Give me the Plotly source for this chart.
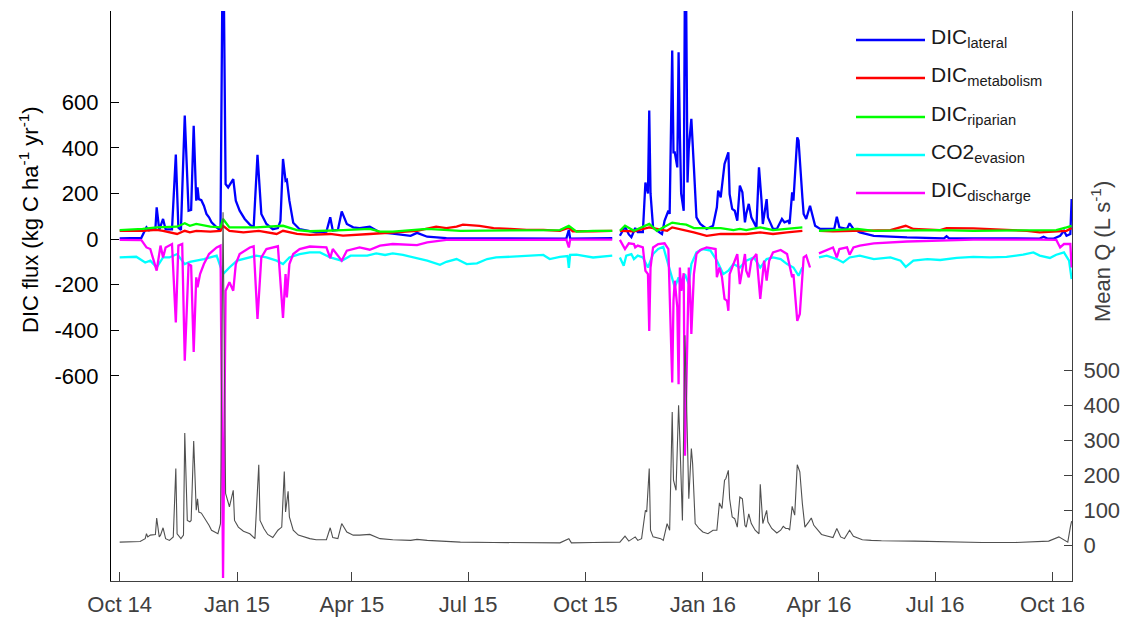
import pandas as pd
import plotly.graph_objects as go

# ---------------- data (day offset from 2014-10-01, value) ----------------
START = pd.Timestamp("2014-10-01")

lateral_day = [0,17,21,23,25,28,29,31,34,36,41,44,46,48,51,54,56,58,60,61,62,64,66,68,70,72,76,79,81,83,85,89,91,94,98,102,105,108,111,115,120,124,126,128,130,131,133,136,141,147,154,162,165,167,171,174,178,183,188,196,204,214,228,233,241,256,293,350,352,353,386,389,392,396,399,401,404,406,410,412,414,415,416,418,421,425,427,430,431,433,434,435,437,438,439,440,442,443,444,445,446,448,450,452,455,460,465,468,469,471,474,475,477,478,480,482,484,486,488,490,491,493,495,499,501,503,504,507,508,512,515,519,521,524,525,527,528,531,532,535,536,538,541,542,545,549,554,560,562,564,570,572,575,580,591,617,646,648,650,669,721,724,727,732,737,740,742,745,746]
lateral_val = [3,5,51,38,45,45,139,40,88,42,42,370,50,40,541,124,128,497,168,226,175,170,146,110,95,73,51,37,1480,241,226,263,168,124,88,63,51,369,110,66,43,48,80,351,256,260,168,71,43,37,29,32,95,37,40,121,66,51,48,54,29,24,14,27,10,4,2,2,40,2,4,None,14,54,20,8,48,30,30,248,200,563,200,51,37,22,80,124,110,827,380,380,314,819,461,200,124,1190,1000,248,400,527,314,95,66,44,58,139,212,183,329,344,380,197,132,124,80,234,205,73,110,154,95,51,314,168,66,175,95,44,44,88,73,80,66,205,168,446,432,183,110,88,146,124,58,44,44,44,98,51,44,69,44,29,14,7,3,12,3,2,2,10,2,2,14,36,14,22,175]

metabolism_day = [0,18,29,34,45,51,55,60,71,79,81,86,97,109,123,128,139,149,165,175,196,214,233,248,256,264,269,282,293,306,319,332,345,352,355,371,386,389,392,403,415,429,433,439,444,450,460,471,481,491,502,512,523,535,540,548,559,575,591,604,616,622,643,648,669,695,711,721,734,742,746]
metabolism_val = [36,36,40,36,22,36,29,36,32,36,58,36,29,36,22,36,22,18,22,15,22,29,36,54,48,54,63,58,48,44,40,40,36,50,34,34,36,None,36,34,51,36,51,44,36,29,14,22,22,22,29,22,29,36,None,36,34,36,36,39,58,44,39,48,47,39,36,29,33,36,48]

riparian_day = [0,18,29,45,51,55,60,71,79,81,86,107,128,139,149,165,175,196,204,214,233,241,267,293,319,345,352,358,371,386,389,392,396,403,415,421,433,439,444,450,460,471,481,486,491,502,512,523,533,535,540,548,559,575,578,591,617,643,669,695,721,734,742,746]
riparian_val = [39,44,51,54,69,58,66,54,51,88,51,51,58,39,34,36,39,44,32,32,41,44,36,36,36,39,58,32,36,36,None,36,58,36,66,36,72,66,63,48,47,48,39,44,39,51,39,44,51,51,None,36,39,44,44,36,39,39,36,36,39,39,51,58]

evasion_day = [0,13,20,24,29,34,39,45,51,55,66,71,76,81,86,92,97,107,115,123,128,133,141,149,157,165,174,181,194,201,208,214,222,230,241,251,256,264,272,280,288,295,306,319,332,337,345,351,352,353,358,371,386,389,392,395,397,401,403,406,410,414,418,422,426,429,433,435,438,440,443,446,448,452,457,463,468,473,477,481,486,491,497,502,507,512,518,523,528,532,535,540,548,554,562,567,572,580,591,604,612,616,622,633,643,656,669,682,695,708,716,721,729,734,740,744,746]
evasion_val = [-81,-78,-103,-95,-125,-81,-81,-66,-110,-100,-88,-81,-73,-154,-125,-95,-88,-73,-81,-95,-110,-81,-66,-59,-59,-81,-95,-73,-73,-63,-70,-63,-70,-81,-95,-113,-100,-88,-110,-107,-88,-81,-78,-73,-70,-88,-78,-75,-127,-70,-69,-81,-73,None,-81,-117,-73,-66,-88,-73,-81,-125,-66,-44,-34,-95,-168,-212,-168,-227,-154,-198,-110,-59,-44,-51,-95,-154,-139,-110,-125,-95,-81,-125,-88,-81,-88,-110,-125,-161,-125,None,-81,-73,-88,-103,-81,-73,-88,-81,-95,-122,-95,-88,-92,-83,-78,-81,-78,-69,-59,-73,-83,-69,-59,-95,-176]

discharge_day = [0,17,21,24,29,32,34,36,41,44,46,49,51,54,56,58,60,61,63,66,70,76,79,81,83,86,89,91,94,102,105,108,111,115,124,128,130,131,133,136,141,149,162,165,167,174,178,183,188,196,204,214,233,241,256,350,352,353,386,389,392,396,399,403,404,406,410,412,414,415,416,418,422,427,430,433,434,435,437,438,439,440,442,443,446,447,448,450,452,455,460,467,468,470,472,474,476,477,478,481,484,486,488,490,491,493,495,499,502,504,505,507,509,512,518,523,527,528,531,533,535,536,538,541,545,548,559,562,564,570,572,575,580,591,617,643,669,721,734,737,740,745,746]
discharge_val = [-4,-5,-37,-44,-139,-29,-81,-37,-22,-366,-29,-22,-534,-110,-117,-495,-168,-212,-154,-110,-66,-37,-29,-1487,-227,-190,-227,-110,-66,-37,-32,-351,-81,-44,-32,-346,-154,-256,-110,-66,-44,-33,-37,-84,-44,-95,-51,-44,-37,-47,-29,-22,-27,-15,-4,-3,-37,-3,-3,None,-4,-44,-19,-22,-37,-29,-37,-139,-154,-403,-125,-37,-22,-19,-44,-629,-271,-183,-300,-637,-125,-227,-150,-951,-125,-227,-416,-154,-66,-48,-37,-44,-168,-125,-168,-263,-271,-315,-154,-110,-66,-198,-125,-66,-139,-168,-95,-66,-263,-125,-95,-183,-95,-59,-48,-66,-168,-154,-359,-329,-183,-81,-73,-125,None,-63,-37,-81,-44,-37,-69,-37,-29,-19,-11,-7,-3,-3,-4,-37,-22,-22,-125]

flow_day = [0,16,20,21,22,24,28,29,31,32,34,36,39,42,44,45,48,50,51,53,55,56,58,60,61,62,64,66,68,70,72,75,77,79,81,83,85,86,89,90,93,97,102,106,109,110,113,116,120,124,127,129,130,132,133,136,140,144,149,154,162,165,167,171,174,178,183,188,196,204,214,228,233,241,254,267,293,319,345,352,354,371,392,396,399,404,406,409,412,413,415,416,418,424,426,429,431,433,434,436,438,439,441,443,446,448,449,451,454,457,461,465,468,470,472,474,475,477,478,480,482,484,486,488,490,491,493,495,498,501,502,504,507,508,511,515,518,520,522,524,525,527,529,531,533,535,537,540,542,544,546,550,555,559,562,565,568,572,575,582,589,597,623,649,676,702,723,728,736,740,743,745,746]
flow_val = [9,11,19,33,24,29,31,78,24,29,50,19,14,24,219,33,19,29,321,71,67,71,298,100,133,95,92,81,71,57,43,38,33,62,951,148,119,110,157,71,52,40,33,19,230,71,48,31,22,43,52,211,95,154,81,43,29,24,19,16,16,50,22,19,62,38,29,29,31,19,16,14,17,14,11,9,8,7,7,19,7,8,9,26,12,24,14,19,100,95,219,43,24,19,14,62,43,381,186,157,400,300,71,600,133,276,233,62,48,38,33,43,43,121,105,186,190,214,133,81,76,52,138,133,57,52,90,62,43,33,174,62,100,67,48,35,43,54,48,48,43,111,86,230,210,119,52,67,78,57,48,31,26,22,48,24,19,43,26,16,14,13,12,9,8,8,10,12,24,14,9,52,69]

legend_names = ["DIC<sub>lateral</sub>", "DIC<sub>metabolism</sub>", "DIC<sub>riparian</sub>",
                "CO2<sub>evasion</sub>", "DIC<sub>discharge</sub>"]
series_colors = ["#0000FF", "#FF0000", "#00FF00", "#00FFFF", "#FF00FF"]

tick_dates = ["2014-10-01", "2015-01-01", "2015-04-01", "2015-07-01", "2015-10-01",
              "2016-01-01", "2016-04-01", "2016-07-01", "2016-10-01"]
tick_text = ["Oct 14", "Jan 15", "Apr 15", "Jul 15", "Oct 15", "Jan 16", "Apr 16", "Jul 16", "Oct 16"]
left_ticks = [-600, -400, -200, 0, 200, 400, 600]
right_ticks = [0, 100, 200, 300, 400, 500]


def to_dates(days):
    return [START + pd.Timedelta(days=d) for d in days]


# ---------------- figure ----------------
W, H = 1125, 622
ML, MR, MT, MB = 111, 53, 11, 41
FONT = "Liberation Sans, Arial, Helvetica, sans-serif"


def px(x):
    return (x - ML) / (W - ML - MR)


def py(y):
    return (H - MB - y) / (H - MT - MB)


fig = go.Figure()
series = [
    (lateral_day, lateral_val),
    (metabolism_day, metabolism_val),
    (riparian_day, riparian_val),
    (evasion_day, evasion_val),
    (discharge_day, discharge_val),
]
for (d, v), name, col in zip(series, legend_names, series_colors):
    fig.add_trace(go.Scatter(x=to_dates(d), y=v, mode="lines", name=name,
                             line=dict(color=col, width=2.3), connectgaps=False,
                             showlegend=False))
fig.add_trace(go.Scatter(x=to_dates(flow_day), y=flow_val, mode="lines", yaxis="y2",
                         name="Mean Q", line=dict(color="#505050", width=1.1),
                         showlegend=False))

shapes = []
annotations = []
leg_y = [40, 78, 117, 155, 193]
for name, col, ly in zip(legend_names, series_colors, leg_y):
    shapes.append(dict(type="line", xref="paper", yref="paper",
                       x0=px(856), x1=px(925), y0=py(ly), y1=py(ly),
                       line=dict(color=col, width=2.3)))
    annotations.append(dict(xref="paper", yref="paper", x=px(929), y=py(ly - 2),
                            xanchor="left", yanchor="middle", showarrow=False,
                            text=name, font=dict(size=21, color="#1a1a1a", family=FONT)))

annotations.append(dict(xref="paper", yref="paper", x=px(29), y=py(220),
                        xanchor="center", yanchor="middle", showarrow=False, textangle=-90,
                        text="DIC flux (kg C ha<sup>-1</sup> yr<sup>-1</sup>)",
                        font=dict(size=22, color="#000000", family=FONT)))
annotations.append(dict(xref="paper", yref="paper", x=px(1101), y=py(252),
                        xanchor="center", yanchor="middle", showarrow=False, textangle=-90,
                        text="Mean Q (L s<sup>-1</sup>)",
                        font=dict(size=22, color="#404040", family=FONT)))

x0 = START - pd.Timedelta(days=6.8)
x1 = START + pd.Timedelta(days=746.3)

fig.update_layout(
    width=W, height=H,
    margin=dict(l=ML, r=MR, t=MT, b=MB, pad=0, autoexpand=False),
    paper_bgcolor="white", plot_bgcolor="white",
    font=dict(family=FONT, size=22, color="#404040"),
    showlegend=False,
    shapes=shapes, annotations=annotations,
    xaxis=dict(type="date", range=[x0, x1], tickvals=tick_dates, ticktext=tick_text,
               ticks="inside", ticklen=9, tickwidth=1, tickcolor="#404040",
               showline=True, linecolor="#404040", linewidth=1, automargin=False,
               showgrid=False, zeroline=False, ticklabelstandoff=4,
               tickfont=dict(size=22, color="#404040", family=FONT)),
    yaxis=dict(range=[-1500, 1000], tickvals=left_ticks, ticktext=[str(t) for t in left_ticks],
               ticks="inside", ticklen=8, tickwidth=1, tickcolor="#000000",
               showline=True, linecolor="#000000", linewidth=1.2, automargin=False,
               showgrid=False, zeroline=False, ticklabelstandoff=7,
               tickfont=dict(size=22, color="#000000", family=FONT)),
    yaxis2=dict(range=[-102, 1526], overlaying="y", side="right",
                tickvals=right_ticks, ticktext=[str(t) for t in right_ticks],
                ticks="inside", ticklen=8, tickwidth=1, tickcolor="#404040",
                showline=True, linecolor="#404040", linewidth=1, automargin=False,
                showgrid=False, zeroline=False, ticklabelstandoff=6,
                tickfont=dict(size=22, color="#404040", family=FONT)),
)

fig.write_html("out.html")
